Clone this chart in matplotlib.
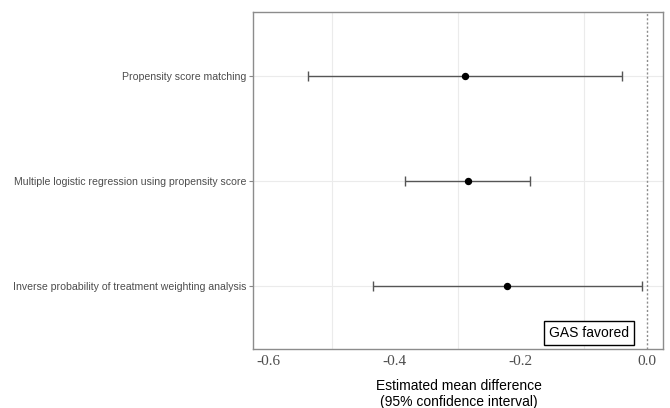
import matplotlib.pyplot as plt

# forest plot data (top row first)
methods = ["Propensity score matching",
           "Multiple logistic regression using propensity score",
           "Inverse probability of treatment weighting analysis"]
estimates = [-0.288, -0.284, -0.222]
ci_low = [-0.538, -0.384, -0.435]
ci_high = [-0.039, -0.186, -0.008]
xticks = [-0.6, -0.4, -0.2, 0.0]
xtick_labels = ["-0.6", "-0.4", "-0.2", "0.0"]
grid_x = [-0.5, -0.3, -0.1]

fig = plt.figure(figsize=(6.7, 4.08), dpi=100)
ax = fig.add_axes([0.3776, 0.1446, 0.6120, 0.8248])

ypos = [3, 2, 1]

# light grid
for g in grid_x:
    ax.axvline(g, color="#ebebeb", lw=0.8, zorder=0)
for y in ypos:
    ax.axhline(y, color="#ebebeb", lw=0.8, zorder=0)

ax.axvline(0, color="#8c8c8c", lw=1, linestyle=(0, (1.5, 1.5)), zorder=1)

err_lo = [e - l for e, l in zip(estimates, ci_low)]
err_hi = [h - e for e, h in zip(estimates, ci_high)]
ax.errorbar(estimates, ypos, xerr=[err_lo, err_hi], fmt="o", color="black",
            ecolor="#555555", elinewidth=1, capsize=3.3, capthick=1,
            markersize=4.3, zorder=3)

ax.set_xlim(-0.625, 0.026)
ax.set_ylim(0.4, 3.6)

ax.set_yticks(ypos)
ax.set_yticklabels(methods, fontsize=7.6, color="#4d4d4d", family="Liberation Sans")
ax.tick_params(axis="y", length=3, width=0.8, color="#888888", pad=2)

ax.set_xticks(xticks)
ax.set_xticklabels(xtick_labels, fontsize=11, color="#4d4d4d", family="Liberation Serif")
ax.tick_params(axis="x", length=0, pad=4)

for s in ax.spines.values():
    s.set_color("#8c8c8c")
    s.set_linewidth(1)

ax.text(-0.028, 0.55, "GAS favored", ha="right", va="center", fontsize=10,
        family="Liberation Sans",
        bbox=dict(boxstyle="square,pad=0.35", fc="white", ec="black", lw=1))

fig.text(0.685, 0.035, "Estimated mean difference\n(95% confidence interval)",
         ha="center", va="center", fontsize=10, family="Liberation Sans",
         linespacing=1.2)

fig.savefig("out.png", dpi=100)
